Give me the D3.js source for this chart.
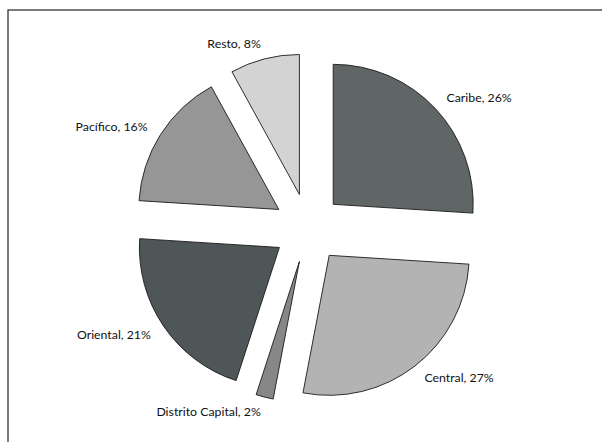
<!DOCTYPE html>
<html>
<head>
<meta charset="utf-8">
<script src="https://cdn.jsdelivr.net/npm/d3@7"></script>
<style>
  html, body { margin: 0; padding: 0; background: #fff; }
  svg { display: block; }
</style>
</head>
<body>
<svg id="chart" width="602" height="442"></svg>
<script>
const categories = ["Caribe", "Central", "Distrito Capital", "Oriental", "Pacífico", "Resto"];
const values = [26, 27, 2, 21, 16, 8];
const colors = ["#5f6665", "#b3b3b3", "#878787", "#4e5658", "#969696", "#d3d3d3"];

const width = 602, height = 442;
const cx = 308, cy = 228, radius = 140, explode = 34.6, labelRadius = 190;

const svg = d3.select("#chart");

// frame
svg.append("rect")
  .attr("x", 8).attr("y", 10)
  .attr("width", 620).attr("height", 460)
  .attr("fill", "none")
  .attr("stroke", "#333")
  .attr("stroke-width", 1.3);

const data = categories.map((c, i) => ({ name: c, value: values[i], color: colors[i] }));

const pie = d3.pie().value(d => d.value).sort(null);
const arcs = pie(data);
const arc = d3.arc().innerRadius(0).outerRadius(radius);

const g = svg.append("g").attr("transform", `translate(${cx},${cy})`);

g.selectAll("path.slice")
  .data(arcs)
  .join("path")
  .attr("class", "slice")
  .attr("d", arc)
  .attr("fill", d => d.data.color)
  .attr("stroke", "#1a1a1a")
  .attr("stroke-width", 0.9)
  .attr("stroke-linejoin", "miter")
  .attr("transform", d => {
    const a = (d.startAngle + d.endAngle) / 2;
    return `translate(${explode * Math.sin(a)},${-explode * Math.cos(a)})`;
  });

g.selectAll("text.label")
  .data(arcs)
  .join("text")
  .attr("class", "label")
  .attr("x", d => labelRadius * Math.sin((d.startAngle + d.endAngle) / 2))
  .attr("y", d => -labelRadius * Math.cos((d.startAngle + d.endAngle) / 2))
  .attr("dy", "0.35em")
  .attr("text-anchor", d => ((d.startAngle + d.endAngle) / 2) < Math.PI ? "start" : "end")
  .attr("font-family", "Lato, 'Open Sans', sans-serif")
  .attr("font-size", 12.3)
  .attr("fill", "#111")
  .text(d => `${d.data.name}, ${d.data.value}%`);
</script>
</body>
</html>
